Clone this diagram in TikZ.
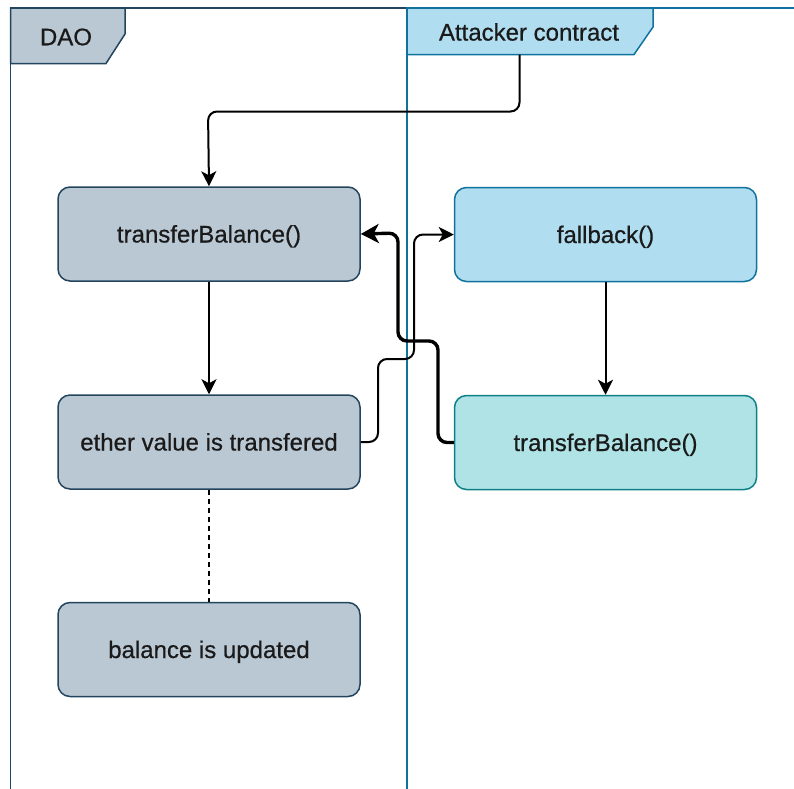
\documentclass[tikz,border=0pt]{standalone}
\usepackage{fontspec}
\setmainfont{Liberation Sans}
\newfontfamily\labelfont{Liberation Sans}[FakeBold=0.6]
\usetikzlibrary{arrows.meta}
\definecolor{daofill}{HTML}{BAC8D3}
\definecolor{daoline}{HTML}{23445D}
\definecolor{atkfill}{HTML}{B1DDF0}
\definecolor{atkline}{HTML}{10739E}
\definecolor{tbfill}{HTML}{B0E3E6}
\definecolor{tbline}{HTML}{0E8088}
\definecolor{ink}{HTML}{1A1A1A}
\tikzset{
  box/.style={draw, rounded corners=12pt, line width=1.5pt, minimum width=302pt,
    minimum height=94pt, inner sep=0pt, text height=20pt, text depth=3pt,
    font=\labelfont\fontsize{24}{28}\selectfont, text=ink},
  daobox/.style={box, fill=daofill, draw=daoline},
  atkbox/.style={box, fill=atkfill, draw=atkline},
  tbbox/.style={box, fill=tbfill, draw=tbline},
  lane/.style={line width=1.5pt},
  hdr/.style={font=\labelfont\fontsize{24}{28}\selectfont, text=ink, inner sep=0pt},
  conn/.style={draw=black, line width=2pt, rounded corners=9pt,
    -{Stealth[length=15pt,width=15pt,inset=4pt]}},
  thickconn/.style={draw=black, line width=3.4pt, rounded corners=9pt,
    -{Stealth[length=18pt,width=19pt,inset=5pt]}},
  dashconn/.style={draw=black, line width=1.7pt, dash pattern=on 5pt off 4pt}
}
\begin{document}
\begin{tikzpicture}[x=1pt,y=-1pt]
\useasboundingbox (0,0) rectangle (794,788);

% swimlane borders
\draw[lane, draw=daoline] (10.5,800) -- (10.5,8) -- (407,8);
\draw[lane, draw=atkline] (407,800) -- (407,8) -- (800,8);

% lane headers
\draw[lane, draw=daoline, fill=daofill] (10.5,8) -- (125,8) -- (125,34) -- (106,63.5) -- (10.5,63.5) -- cycle;
\node[hdr] (daohdr) at (66,37) {DAO};
\draw[lane, draw=atkline, fill=atkfill] (407,8) -- (653,8) -- (653,27) -- (634,54.5) -- (407,54.5) -- cycle;
\node[hdr] (atkhdr) at (529,32) {Attacker contract};
\coordinate (atkbase) at (519.5,54.5);

% DAO lane steps
\node[daobox] (daotb) at (209,234) {transferBalance()};
\node[daobox] (ether) at (209,442) {ether value is transfered};
\node[daobox] (upd) at (209,649.5) {balance is updated};

% attacker lane steps
\node[atkbox] (fb) at (605.5,234.5) {fallback()};
\node[tbbox] (atktb) at (605.5,442.5) {transferBalance()};

% connectors
\draw[conn] (atkbase) -- (519.5,111.5) -- (208,111.5) -- (daotb.north);
\draw[conn] (daotb.south) -- (ether.north);
\draw[dashconn] (ether.south) -- (upd.north);
\draw[conn] (fb.south) -- (atktb.north);
\draw[thickconn] (atktb.west) -- (438,442.5) -- (438,341) -- (398,341) -- (398,233) -- (daotb.east);
\draw[conn] (ether.east) -- (378,442) -- (378,359) -- (414,359) -- (414,234.5) -- (fb.west);
\end{tikzpicture}
\end{document}
